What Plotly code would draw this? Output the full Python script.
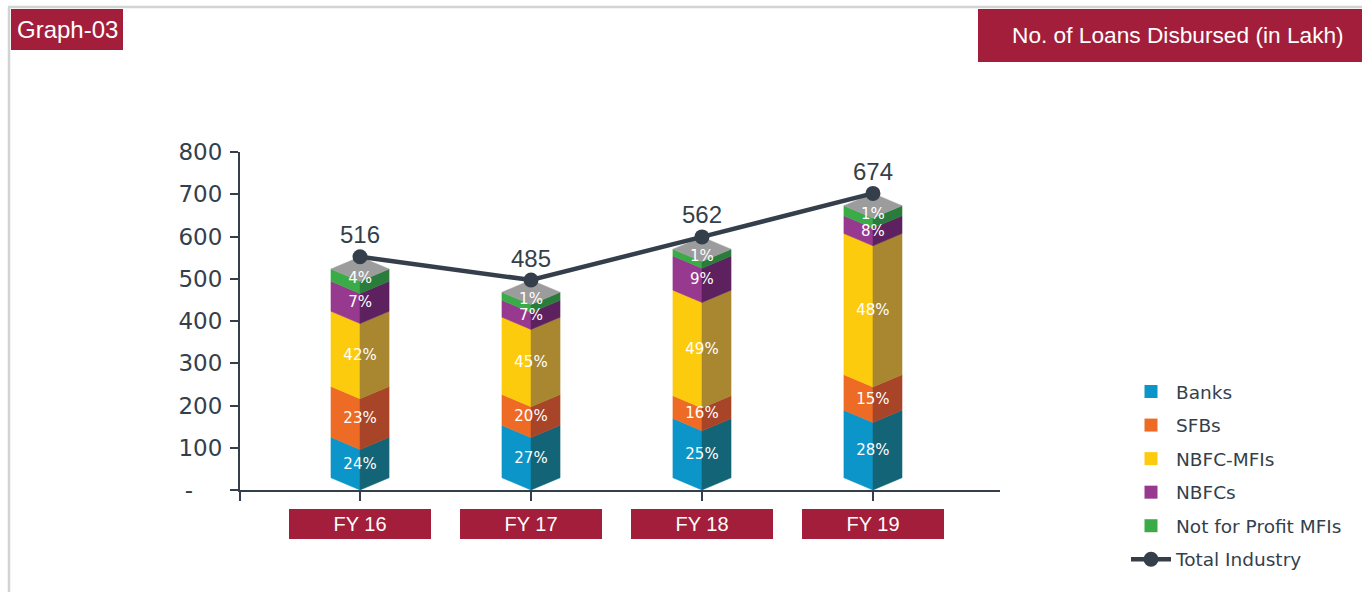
import plotly.graph_objects as go

# ---------------- data ----------------
categories = ["FY 16", "FY 17", "FY 18", "FY 19"]

# stacked segment heights (in Lakh, as drawn)
banks = [96, 124, 140, 160]
sfbs = [120, 73, 54, 84]
nbfc_mfis = [178, 183, 250, 334]
nbfcs = [71, 40, 81, 42]
not_for_profit = [29, 19, 16, 24]

# percentage labels shown on each segment
banks_share = ["24%", "27%", "25%", "28%"]
sfbs_share = ["23%", "20%", "16%", "15%"]
nbfc_mfis_share = ["42%", "45%", "49%", "48%"]
nbfcs_share = ["7%", "7%", "9%", "8%"]
not_for_profit_share = ["4%", "1%", "1%", "1%"]

# total industry labels
total_industry = [516, 485, 562, 674]

y_tick_values = [0, 100, 200, 300, 400, 500, 600, 700, 800]
y_tick_labels = ["-\u00a0\u00a0\u00a0\u00a0", "100", "200", "300", "400", "500", "600", "700", "800"]

# ---------------- styles ----------------
series = [
    ("Banks", banks, banks_share, "#0b95c8", "#146477"),
    ("SFBs", sfbs, sfbs_share, "#ee6b26", "#a84427"),
    ("NBFC-MFIs", nbfc_mfis, nbfc_mfis_share, "#fdcb0e", "#a98731"),
    ("NBFCs", nbfcs, nbfcs_share, "#96398f", "#5d2160"),
    ("Not for Profit MFIs", not_for_profit, not_for_profit_share, "#3bab48", "#2a7c3c"),
]
TOP_COLOR = "#9c9c9c"
DARK = "#343f4b"
RED = "#a31e3a"
FRAME = "#d3d3d3"

HALF_W = 0.17   # half bar width (category units)
DEPTH = 29      # isometric vertical offset (axis units)

W_FIG, H_FIG = 1362, 592
L, R, T, B = 240, 1000, 152, 490


def px(x):
    return (x - L) / (R - L)


def py(y):
    return (B - y) / (B - T)


fig = go.Figure()
xs = list(range(len(categories)))
base = [0.0] * len(categories)
label_traces = []

for k, (name, vals, shares, front, side) in enumerate(series):
    lx, ly, rx, ry, tx, ty = [], [], [], [], [], []
    lift = 0.65 if k == len(series) - 1 else 0.4
    for j, v in enumerate(vals):
        lo, hi = base[j], base[j] + v
        x = xs[j]
        lx += [x - HALF_W, x, x, x - HALF_W, x - HALF_W, None]
        ly += [lo + DEPTH, lo, hi, hi + DEPTH, lo + DEPTH, None]
        rx += [x, x + HALF_W, x + HALF_W, x, x, None]
        ry += [lo, lo + DEPTH, hi + DEPTH, hi, lo, None]
        tx.append(x)
        ty.append(lo + v / 2 + DEPTH * lift)
        base[j] = hi
    fig.add_trace(go.Scatter(x=lx, y=ly, mode="lines", fill="toself", fillcolor=front,
                             line=dict(width=0.5, color=front), hoverinfo="skip",
                             showlegend=False))
    fig.add_trace(go.Scatter(x=rx, y=ry, mode="lines", fill="toself", fillcolor=side,
                             line=dict(width=0.5, color=side), hoverinfo="skip",
                             showlegend=False))
    label_traces.append(go.Scatter(x=tx, y=ty, mode="text", text=shares,
                                   textfont=dict(family="DejaVu Sans", size=15, color="white"),
                                   textposition="middle center", hoverinfo="skip",
                                   showlegend=False))

# top faces
topx, topy = [], []
for j in xs:
    top = base[j]
    topx += [j - HALF_W, j, j + HALF_W, j, j - HALF_W, None]
    topy += [top + DEPTH, top, top + DEPTH, top + 2 * DEPTH, top + DEPTH, None]
fig.add_trace(go.Scatter(x=topx, y=topy, mode="lines", fill="toself", fillcolor=TOP_COLOR,
                         line=dict(width=0.5, color=TOP_COLOR), hoverinfo="skip",
                         showlegend=False))

for tr in label_traces:
    fig.add_trace(tr)

# legend entries for the segments
for name, vals, shares, front, side in series:
    fig.add_trace(go.Scatter(x=[None], y=[None], mode="markers", name=name,
                             legendgroup=name,
                             marker=dict(symbol="square", size=13, color=front)))

# total industry line (sits on the back corner of each bar top)
line_y = [base[j] + 2 * DEPTH for j in xs]
fig.add_trace(go.Scatter(x=xs, y=line_y, mode="lines+markers", name="Total Industry",
                         legendgroup="total",
                         line=dict(color=DARK, width=4.5),
                         marker=dict(color=DARK, size=15)))

annotations = []
for j in xs:
    annotations.append(dict(x=xs[j], y=line_y[j], xref="x", yref="y", text=str(total_industry[j]),
                            showarrow=False, yshift=22,
                            font=dict(family="Liberation Sans, Arial", size=24, color=DARK)))
    annotations.append(dict(x=xs[j], y=py(523.5), xref="x", yref="paper", text=categories[j],
                            showarrow=False, bgcolor=RED, width=142, height=30,
                            borderpad=0, borderwidth=0, xanchor="center", yanchor="middle",
                            font=dict(family="Liberation Sans, Arial", size=20, color="white")))

annotations.append(dict(x=px(67), y=py(29.5), xref="paper", yref="paper", text="Graph-03",
                        showarrow=False, xanchor="center", yanchor="middle",
                        font=dict(family="Liberation Sans, Arial", size=24, color="white")))
annotations.append(dict(x=px(1346), y=py(35.5), xref="paper", yref="paper",
                        text="No. of Loans Disbursed (in Lakh)",
                        showarrow=False, xanchor="right", yanchor="middle",
                        font=dict(family="Liberation Sans, Arial", size=22.7, color="white")))

shapes = [
    dict(type="line", xref="paper", yref="paper", x0=px(8), x1=px(1362), y0=py(7), y1=py(7),
         line=dict(color=FRAME, width=2.5)),
    dict(type="line", xref="paper", yref="paper", x0=px(9), x1=px(9), y0=py(7), y1=py(592),
         line=dict(color=FRAME, width=2.5)),
    dict(type="rect", xref="paper", yref="paper", x0=px(11), x1=px(123), y0=py(9), y1=py(50),
         fillcolor=RED, line=dict(width=0)),
    dict(type="rect", xref="paper", yref="paper", x0=px(978), x1=px(1362), y0=py(9), y1=py(62),
         fillcolor=RED, line=dict(width=0)),
    dict(type="line", xref="paper", yref="paper", x0=0, x1=0, y0=0, y1=py(501),
         line=dict(color=DARK, width=2)),
]

fig.update_layout(
    width=W_FIG, height=H_FIG, autosize=False,
    margin=dict(l=L, r=W_FIG - R, t=T, b=H_FIG - B, pad=0),
    paper_bgcolor="white", plot_bgcolor="white",
    showlegend=True,
    legend=dict(x=px(1126), y=py(373), xanchor="left", yanchor="top",
                font=dict(family="DejaVu Sans", size=18.5, color=DARK),
                itemwidth=40,
                traceorder="grouped", tracegroupgap=6.5, bgcolor="rgba(0,0,0,0)"),
    xaxis=dict(range=[-0.702, 3.743], tickvals=xs, showticklabels=False,
               ticks="outside", ticklen=9, tickwidth=2, tickcolor=DARK,
               showline=True, linecolor=DARK, linewidth=2,
               showgrid=False, zeroline=False, fixedrange=True),
    yaxis=dict(range=[0, 800], tickvals=y_tick_values, ticktext=y_tick_labels,
               ticks="outside", ticklen=8, tickwidth=2, tickcolor=DARK,
               showline=True, linecolor=DARK, linewidth=2,
               showgrid=False, zeroline=False, fixedrange=True,
               ticklabelstandoff=3,
               tickfont=dict(family="DejaVu Sans", size=23, color=DARK)),
    annotations=annotations,
    shapes=shapes,
)

fig.write_html("out.html",
               config={"displayModeBar": False},
               post_script="document.body.style.margin='0px';document.body.style.overflow='hidden';")
